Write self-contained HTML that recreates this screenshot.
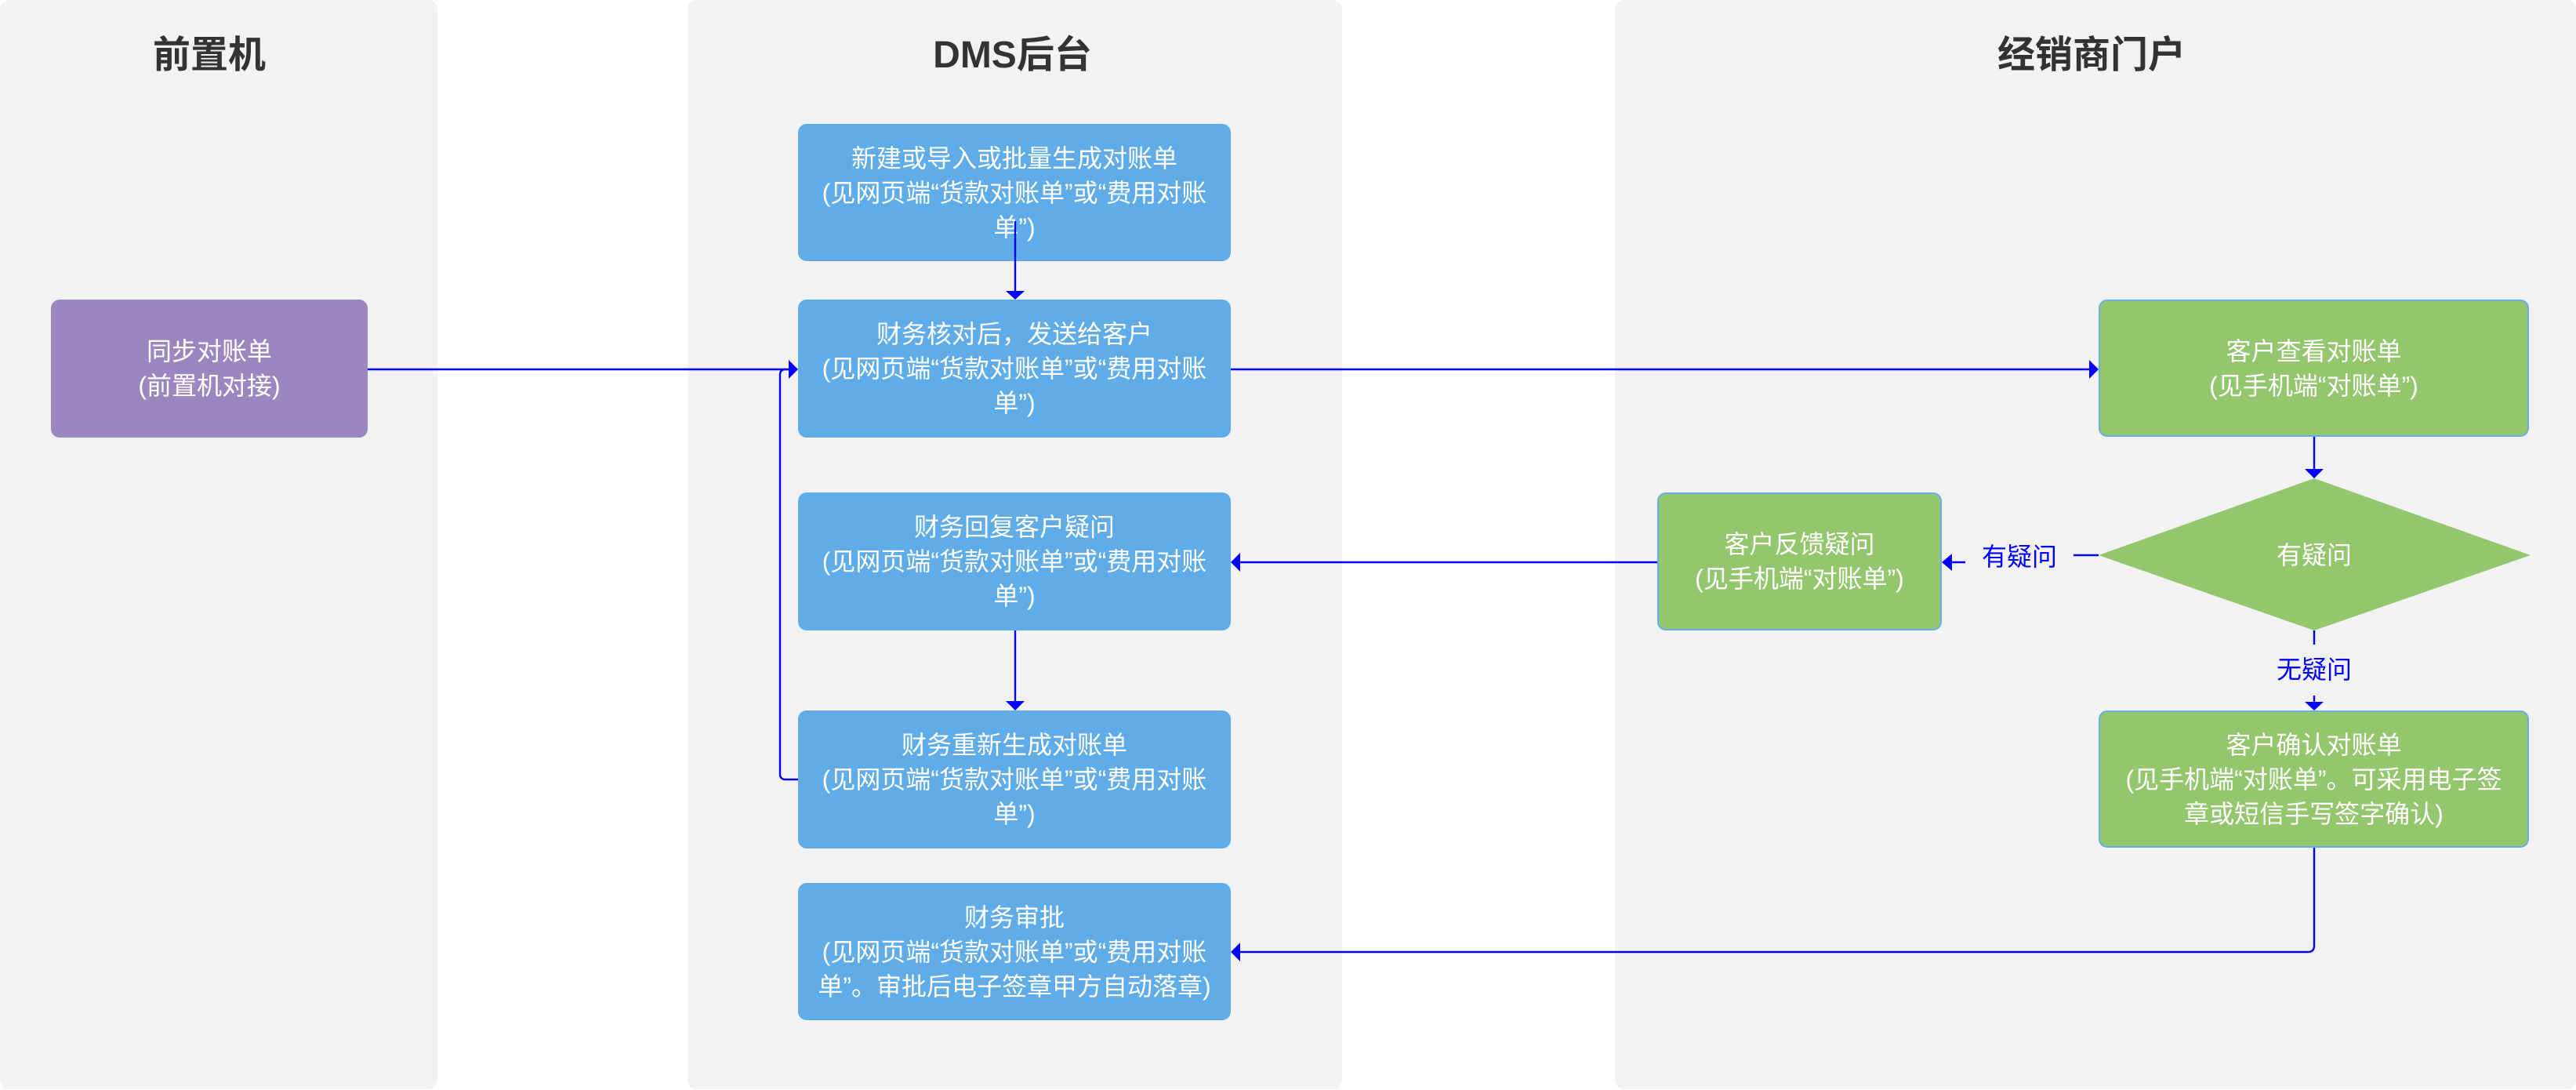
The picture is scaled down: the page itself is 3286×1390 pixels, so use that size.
<!DOCTYPE html>
<html lang="zh">
<head>
<meta charset="utf-8">
<style>
  html, body { margin:0; padding:0; }
  body { width:3286px; height:1390px; position:relative; background:#ffffff; overflow:hidden;
         font-family:"Liberation Sans","Noto Sans CJK SC",sans-serif; }
  .lane { position:absolute; top:0; height:1389px; background:#F2F2F2; border-radius:12px; }
  .title { position:absolute; top:43px; height:56px; line-height:56px; text-align:center;
           font-size:48px; font-weight:bold; color:#333333; white-space:nowrap; }
  .box { position:absolute; display:flex; flex-direction:column; justify-content:center; align-items:center;
         color:#ffffff; font-size:32px; box-sizing:border-box; }
  .box div { line-height:44px; white-space:nowrap; text-align:center; }
  .blue { background:#5FACE8; border-radius:11px; }
  .purple { background:#9B87BF; border-radius:11px; }
  .green { background:#93C66D; border:2px solid #66AEEA; border-radius:11px; }
  .lbl { position:absolute; font-size:32px; color:#0000FF; line-height:40px; height:40px; white-space:nowrap; text-align:center; }
  svg { position:absolute; left:0; top:0; }
</style>
</head>
<body>
  <!-- lanes -->
  <div class="lane" style="left:0;width:558px;"></div>
  <div class="lane" style="left:877px;width:835px;"></div>
  <div class="lane" style="left:2060px;width:1226px;"></div>

  <div class="title" style="left:0;width:534px;">前置机</div>
  <div class="title" style="left:877px;width:829px;">DMS后台</div>
  <div class="title" style="left:2440px;width:456px;">经销商门户</div>

  <!-- 前置机 -->
  <div class="box purple" style="left:65px;top:382px;width:404px;height:176px;">
    <div>同步对账单</div>
    <div>(前置机对接)</div>
  </div>

  <!-- DMS -->
  <div class="box blue" style="left:1018px;top:158px;width:552px;height:175px;">
    <div>新建或导入或批量生成对账单</div>
    <div>(见网页端“货款对账单”或“费用对账</div>
    <div>单”)</div>
  </div>
  <div class="box blue" style="left:1018px;top:382px;width:552px;height:176px;">
    <div>财务核对后，发送给客户</div>
    <div>(见网页端“货款对账单”或“费用对账</div>
    <div>单”)</div>
  </div>
  <div class="box blue" style="left:1018px;top:628px;width:552px;height:176px;">
    <div>财务回复客户疑问</div>
    <div>(见网页端“货款对账单”或“费用对账</div>
    <div>单”)</div>
  </div>
  <div class="box blue" style="left:1018px;top:906px;width:552px;height:176px;">
    <div>财务重新生成对账单</div>
    <div>(见网页端“货款对账单”或“费用对账</div>
    <div>单”)</div>
  </div>
  <div class="box blue" style="left:1018px;top:1126px;width:552px;height:175px;">
    <div>财务审批</div>
    <div>(见网页端“货款对账单”或“费用对账</div>
    <div>单”。审批后电子签章甲方自动落章)</div>
  </div>

  <!-- 经销商门户 -->
  <div class="box green" style="left:2677px;top:382px;width:549px;height:175px;">
    <div>客户查看对账单</div>
    <div>(见手机端“对账单”)</div>
  </div>
  <div class="box green" style="left:2114px;top:628px;width:363px;height:176px;">
    <div>客户反馈疑问</div>
    <div>(见手机端“对账单”)</div>
  </div>
  <div class="box green" style="left:2677px;top:906px;width:549px;height:175px;">
    <div>客户确认对账单</div>
    <div>(见手机端“对账单”。可采用电子签</div>
    <div>章或短信手写签字确认)</div>
  </div>

  <svg width="3286" height="1390" viewBox="0 0 3286 1390">
    <!-- diamond -->
    <polygon points="2952,610 3228,708 2952,804 2677,708" fill="#93C66D"/>
    <text x="2952" y="719" font-size="32" fill="#ffffff" text-anchor="middle"
          font-family="Liberation Sans, Noto Sans CJK SC, sans-serif">有疑问</text>

    <g fill="none" stroke="#0000FF" stroke-width="2.4">
      <!-- purple -> box2 -->
      <path d="M469,471 H1007"/>
      <!-- loop from box4 back to box2 -->
      <path d="M1018,994 H1002 Q995,994 995,987 V478 Q995,471 1002,471 H1007"/>
      <!-- box1 -> box2 -->
      <path d="M1295,282 V372"/>
      <!-- box2 -> 客户查看 -->
      <path d="M1570,471 H2666"/>
      <!-- 客户查看 -> diamond -->
      <path d="M2952,557 V599"/>
      <!-- diamond -> 有疑问 -->
      <path d="M2677,708 H2645"/>
      <path d="M2507,717 H2489"/>
      <!-- 客户反馈 -> box3 -->
      <path d="M2114,717 H1581"/>
      <!-- box3 -> box4 -->
      <path d="M1295,804 V895"/>
      <!-- diamond -> 无疑问 -->
      <path d="M2952,804 V822"/>
      <path d="M2952,887 V896"/>
      <!-- 客户确认 -> box5 -->
      <path d="M2952,1081 V1206 Q2952,1214 2944,1214 H1581"/>
    </g>
    <g fill="#0000FF">
      <polygon points="1018,471 1006,459 1006,483"/>
      <polygon points="1295,382 1283,371 1307,371"/>
      <polygon points="2677,471 2665,459 2665,483"/>
      <polygon points="2952,610 2940,598 2964,598"/>
      <polygon points="2477,717 2490,706 2490,728"/>
      <polygon points="1570,717 1582,705 1582,729"/>
      <polygon points="1295,906 1283,894 1307,894"/>
      <polygon points="2952,906 2940,895 2964,895"/>
      <polygon points="1570,1214 1582,1202 1582,1226"/>
    </g>
  </svg>

  <div class="lbl" style="left:2520px;top:690px;width:112px;">有疑问</div>
  <div class="lbl" style="left:2896px;top:834px;width:112px;">无疑问</div>
</body>
</html>
